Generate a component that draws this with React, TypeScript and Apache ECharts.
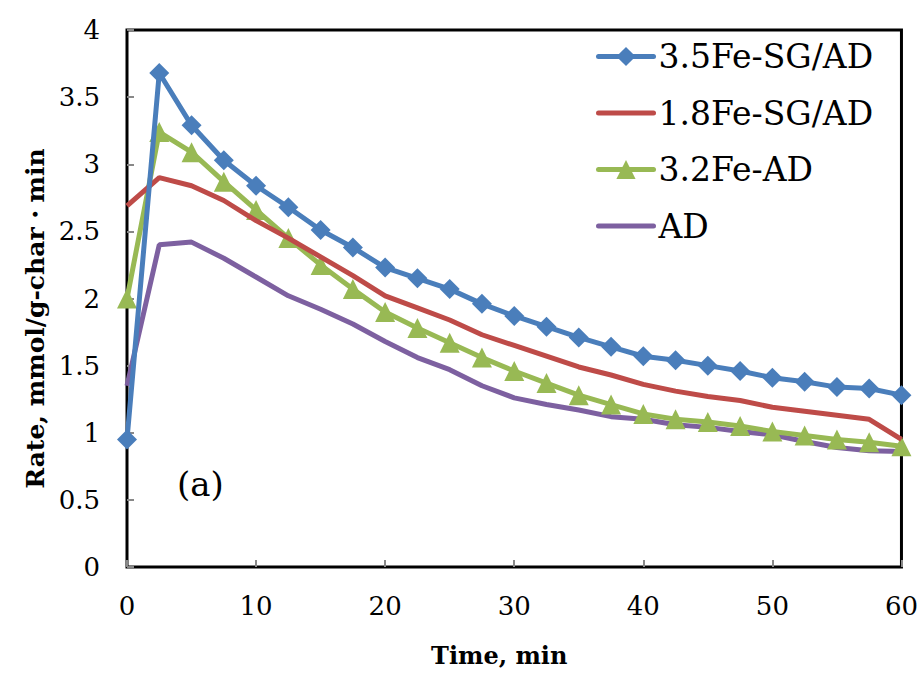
import React, { useEffect, useRef } from "react";
import * as echarts from "echarts";

const times = [0, 2.5, 5, 7.5, 10, 12.5, 15, 17.5, 20, 22.5, 25, 27.5, 30, 32.5, 35, 37.5, 40, 42.5, 45, 47.5, 50, 52.5, 55, 57.5, 60];

const fe35SG = [0.95, 3.68, 3.29, 3.03, 2.84, 2.68, 2.51, 2.38, 2.23, 2.15, 2.07, 1.96, 1.87, 1.79, 1.71, 1.64, 1.57, 1.54, 1.50, 1.46, 1.41, 1.38, 1.34, 1.33, 1.28];
const fe18SG = [2.69, 2.90, 2.84, 2.73, 2.58, 2.45, 2.31, 2.17, 2.02, 1.93, 1.84, 1.73, 1.65, 1.57, 1.49, 1.43, 1.36, 1.31, 1.27, 1.24, 1.19, 1.16, 1.13, 1.10, 0.95];
const fe32AD = [2.0, 3.24, 3.09, 2.87, 2.66, 2.45, 2.25, 2.07, 1.90, 1.78, 1.67, 1.56, 1.46, 1.37, 1.28, 1.21, 1.14, 1.10, 1.08, 1.05, 1.01, 0.98, 0.95, 0.93, 0.90];
const ad = [1.35, 2.40, 2.42, 2.30, 2.16, 2.02, 1.92, 1.81, 1.68, 1.56, 1.47, 1.35, 1.26, 1.21, 1.17, 1.12, 1.10, 1.06, 1.04, 1.01, 0.985, 0.935, 0.89, 0.866, 0.86];

const seriesNames = ["3.5Fe-SG/AD", "1.8Fe-SG/AD", "3.2Fe-AD", "AD"];
const colors = ["#4A7EBB", "#BE4B48", "#98B954", "#7D60A0"];

const FONT = "DejaVu Serif";

export default function App() {
  const ref = useRef<HTMLDivElement>(null);
  useEffect(() => {
    document.body.style.margin = "0";
    if (!ref.current) return;
    const chart = echarts.init(ref.current, undefined, { renderer: "svg" });
    const pairs = (arr: number[]) => times.map((t, i) => [t, arr[i]]);
    const symbols = ["diamond", "none", "triangle", "none"];
    const sizes = [20, 0, 20, 0];
    const datas = [fe35SG, fe18SG, fe32AD, ad];
    chart.setOption({
      animation: false,
      backgroundColor: "#ffffff",
      grid: {
        left: 127,
        right: 15,
        top: 30,
        bottom: 108,
        show: true,
        borderColor: "#000",
        borderWidth: 3,
        backgroundColor: "transparent",
      },
      legend: {
        orient: "vertical",
        left: 591,
        top: 35,
        itemWidth: 55,
        itemHeight: 24,
        itemGap: 23.5,
        textStyle: { fontFamily: FONT, fontSize: 33, color: "#000" },
        data: seriesNames.map((name, i) =>
          symbols[i] === "none"
            ? {
                name,
                itemStyle: { color: "rgba(0,0,0,0)", borderWidth: 0 },
                lineStyle: { color: colors[i], width: 5, cap: "round" },
              }
            : { name, lineStyle: { color: colors[i], width: 5, cap: "round" } }
        ),
      },
      xAxis: {
        type: "value",
        min: 0,
        max: 60,
        interval: 10,
        name: "Time, min",
        nameLocation: "middle",
        nameGap: 76,
        nameTextStyle: {
          fontFamily: FONT,
          fontSize: 24,
          fontWeight: "bold",
          color: "#000",
          padding: [0, 30, 0, 0],
        },
        axisLine: { show: false },
        axisTick: { show: true, inside: true, length: 7, lineStyle: { color: "#888", width: 2 } },
        axisLabel: { fontFamily: FONT, fontSize: 26, color: "#000", margin: 26 },
        splitLine: { show: false },
      },
      yAxis: {
        type: "value",
        min: 0,
        max: 4,
        interval: 0.5,
        name: "Rate, mmol/g-char・min",
        nameLocation: "middle",
        nameGap: 72,
        nameTextStyle: {
          fontFamily: FONT,
          fontSize: 25,
          fontWeight: "bold",
          color: "#000",
          padding: [0, 40, 0, 0],
        },
        axisLine: { show: false },
        axisTick: { show: true, inside: true, length: 7, lineStyle: { color: "#888", width: 2 } },
        axisLabel: { fontFamily: FONT, fontSize: 26, color: "#000", margin: 27 },
        splitLine: { show: false },
      },
      graphic: [
        {
          type: "text",
          left: 177,
          top: 467,
          style: { text: "(a)", font: `34px '${FONT}'`, fill: "#000" },
        },
      ],
      series: seriesNames.map((name, i) => ({
        name,
        type: "line",
        data: pairs(datas[i]),
        symbol: symbols[i],
        symbolSize: sizes[i],
        showSymbol: symbols[i] !== "none",
        lineStyle: { width: 5, color: colors[i] },
        itemStyle: { color: colors[i] },
        z: 10 - i,
      })),
    });
    return () => chart.dispose();
  }, []);
  return <div ref={ref} style={{ width: 921, height: 675 }} />;
}
